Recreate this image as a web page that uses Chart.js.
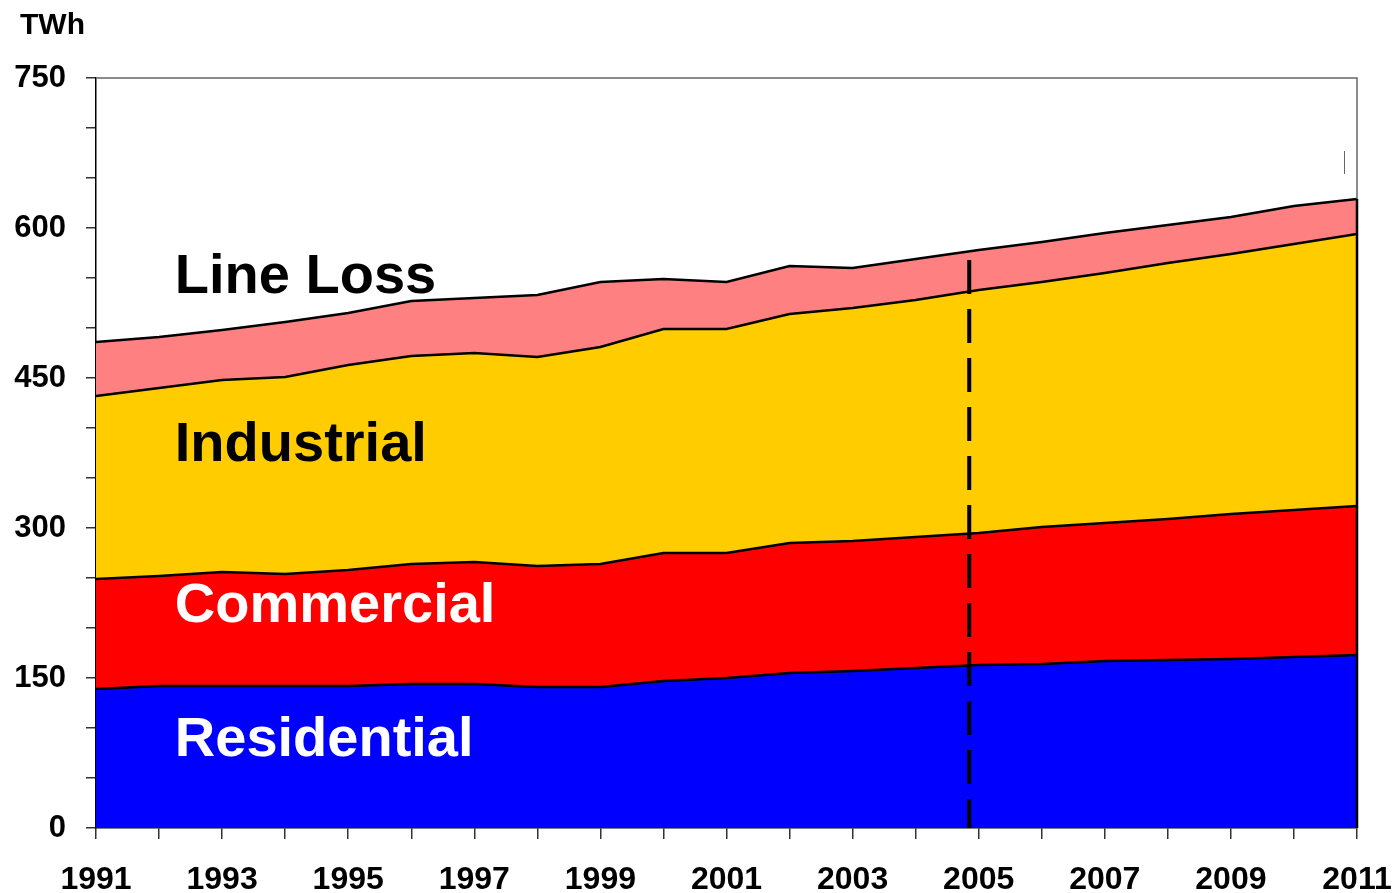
<!DOCTYPE html>
<html>
<head>
<meta charset="utf-8">
<script src="https://cdn.jsdelivr.net/npm/chart.js@4/dist/chart.umd.min.js"></script>
<style>
  html, body { margin: 0; padding: 0; background: #fff; }
  canvas { display: block; }
</style>
</head>
<body>
<canvas id="c" width="1397" height="893"></canvas>
<script>
// ---- data (TWh) ----
const years = [1991,1992,1993,1994,1995,1996,1997,1998,1999,2000,2001,2002,2003,2004,2005,2006,2007,2008,2009,2010,2011];
const residential = [139,142,142,142,142,144,144,141,141,147,150,155,157,160,163,164,167,168,169,171,173];
const commercial  = [110,110,114,112,116,120,122,121,123,128,125,130,130,131,132,137,138,141,145,147,149];
const industrial  = [183,188,192,197,205,208,209,209,217,224,224,229,233,237,243,245,250,256,260,266,272];
const lineLoss    = [ 54, 51, 50, 55, 52, 55, 55, 62, 65, 50, 47, 48, 40, 41, 40, 40, 40, 38, 37, 38, 35];
const seriesNames = ['Residential','Commercial','Industrial','Line Loss'];
const yTicksLabelled = [0,150,300,450,600,750];
const forecastStart = 2004.85; // dashed divider position (year)

const FONT = '"Liberation Sans", Arial, sans-serif';

// in-chart series labels: [text, yearAnchor, valueAnchor(baseline), colour]
const seriesLabels = [
  ['Line Loss',   1992.25, 535, '#000000'],
  ['Industrial',  1992.25, 367, '#000000'],
  ['Commercial',  1992.25, 206, '#ffffff'],
  ['Residential', 1992.25,  72, '#ffffff']
];

const toXY = arr => arr.map((v, i) => ({x: years[i], y: v}));

const overlay = {
  id: 'overlay',
  afterDatasetsDraw(chart) {
    const {ctx, chartArea: a, scales: {x, y}} = chart;
    ctx.save();
    // top and right frame
    ctx.strokeStyle = '#666';
    ctx.lineWidth = 1.5;
    ctx.beginPath();
    ctx.moveTo(a.left, a.top); ctx.lineTo(a.right, a.top);
    ctx.lineTo(a.right, a.bottom);
    ctx.stroke();
    // right edge of the filled stack
    const last = years.length - 1;
    const total = residential[last] + commercial[last] + industrial[last] + lineLoss[last];
    ctx.strokeStyle = '#000';
    ctx.lineWidth = 2.5;
    ctx.beginPath();
    ctx.moveTo(a.right, y.getPixelForValue(0));
    ctx.lineTo(a.right, y.getPixelForValue(total));
    ctx.stroke();
    // dashed divider
    const xd = x.getPixelForValue(forecastStart);
    ctx.strokeStyle = '#000';
    ctx.lineWidth = 4;
    ctx.setLineDash([34, 15]);
    ctx.beginPath();
    ctx.moveTo(xd, y.getPixelForValue(568));
    ctx.lineTo(xd, y.getPixelForValue(0));
    ctx.stroke();
    ctx.setLineDash([]);
    // small stray mark
    ctx.strokeStyle = '#666';
    ctx.lineWidth = 1;
    const xm = Math.round(x.getPixelForValue(2010.8)) + 0.5;
    ctx.beginPath();
    ctx.moveTo(xm, y.getPixelForValue(677));
    ctx.lineTo(xm, y.getPixelForValue(654));
    ctx.stroke();
    // series labels
    ctx.font = 'bold 56px ' + FONT;
    ctx.textAlign = 'left';
    ctx.textBaseline = 'alphabetic';
    seriesLabels.forEach(([t, yr, v, col]) => {
      ctx.fillStyle = col;
      ctx.fillText(t, x.getPixelForValue(yr), y.getPixelForValue(v));
    });
    // unit
    ctx.fillStyle = '#000';
    ctx.font = 'bold 30px ' + FONT;
    ctx.fillText('TWh', 20, 34);
    ctx.restore();
  }
};

new Chart(document.getElementById('c'), {
  type: 'line',
  data: {
    datasets: [
      {label: seriesNames[0], data: toXY(residential), backgroundColor: '#0000ff', fill: 'origin'},
      {label: seriesNames[1], data: toXY(commercial),  backgroundColor: '#ff0000', fill: '-1'},
      {label: seriesNames[2], data: toXY(industrial),  backgroundColor: '#ffcc00', fill: '-1'},
      {label: seriesNames[3], data: toXY(lineLoss),    backgroundColor: '#ff8080', fill: '-1'}
    ].map(d => Object.assign(d, {borderColor: '#000', borderWidth: 2.5, pointRadius: 0, tension: 0}))
  },
  options: {
    responsive: false,
    animation: false,
    layout: {padding: {top: 78, right: 40, left: 0, bottom: 0}},
    plugins: {legend: {display: false}, tooltip: {enabled: false}},
    scales: {
      x: {
        type: 'linear',
        min: years[0], max: years[years.length - 1],
        afterFit: s => { s.height = 65; s.paddingLeft = 0; s.paddingRight = 0; },
        afterBuildTicks: s => { s.ticks = years.map(v => ({value: v})); },
        ticks: {
          autoSkip: false, maxRotation: 0,
          color: '#000', padding: 22,
          font: {family: FONT, size: 32, weight: 'bold'},
          callback: v => ((v - years[0]) % 2 === 0 ? String(v) : '')
        },
        grid: {drawOnChartArea: false, tickLength: 11, color: '#333', lineWidth: 1.5},
        border: {color: '#000', width: 1.5}
      },
      y: {
        stacked: true,
        min: 0, max: 750,
        afterFit: s => { s.width = 96; },
        ticks: {
          stepSize: 50, color: '#000', padding: 20,
          font: {family: FONT, size: 31, weight: 'bold'},
          callback: v => (yTicksLabelled.includes(v) ? String(v) : '')
        },
        grid: {drawOnChartArea: false, tickLength: 10, color: '#333', lineWidth: 1.5},
        border: {color: '#000', width: 1.5}
      }
    }
  },
  plugins: [overlay]
});
</script>
</body>
</html>
